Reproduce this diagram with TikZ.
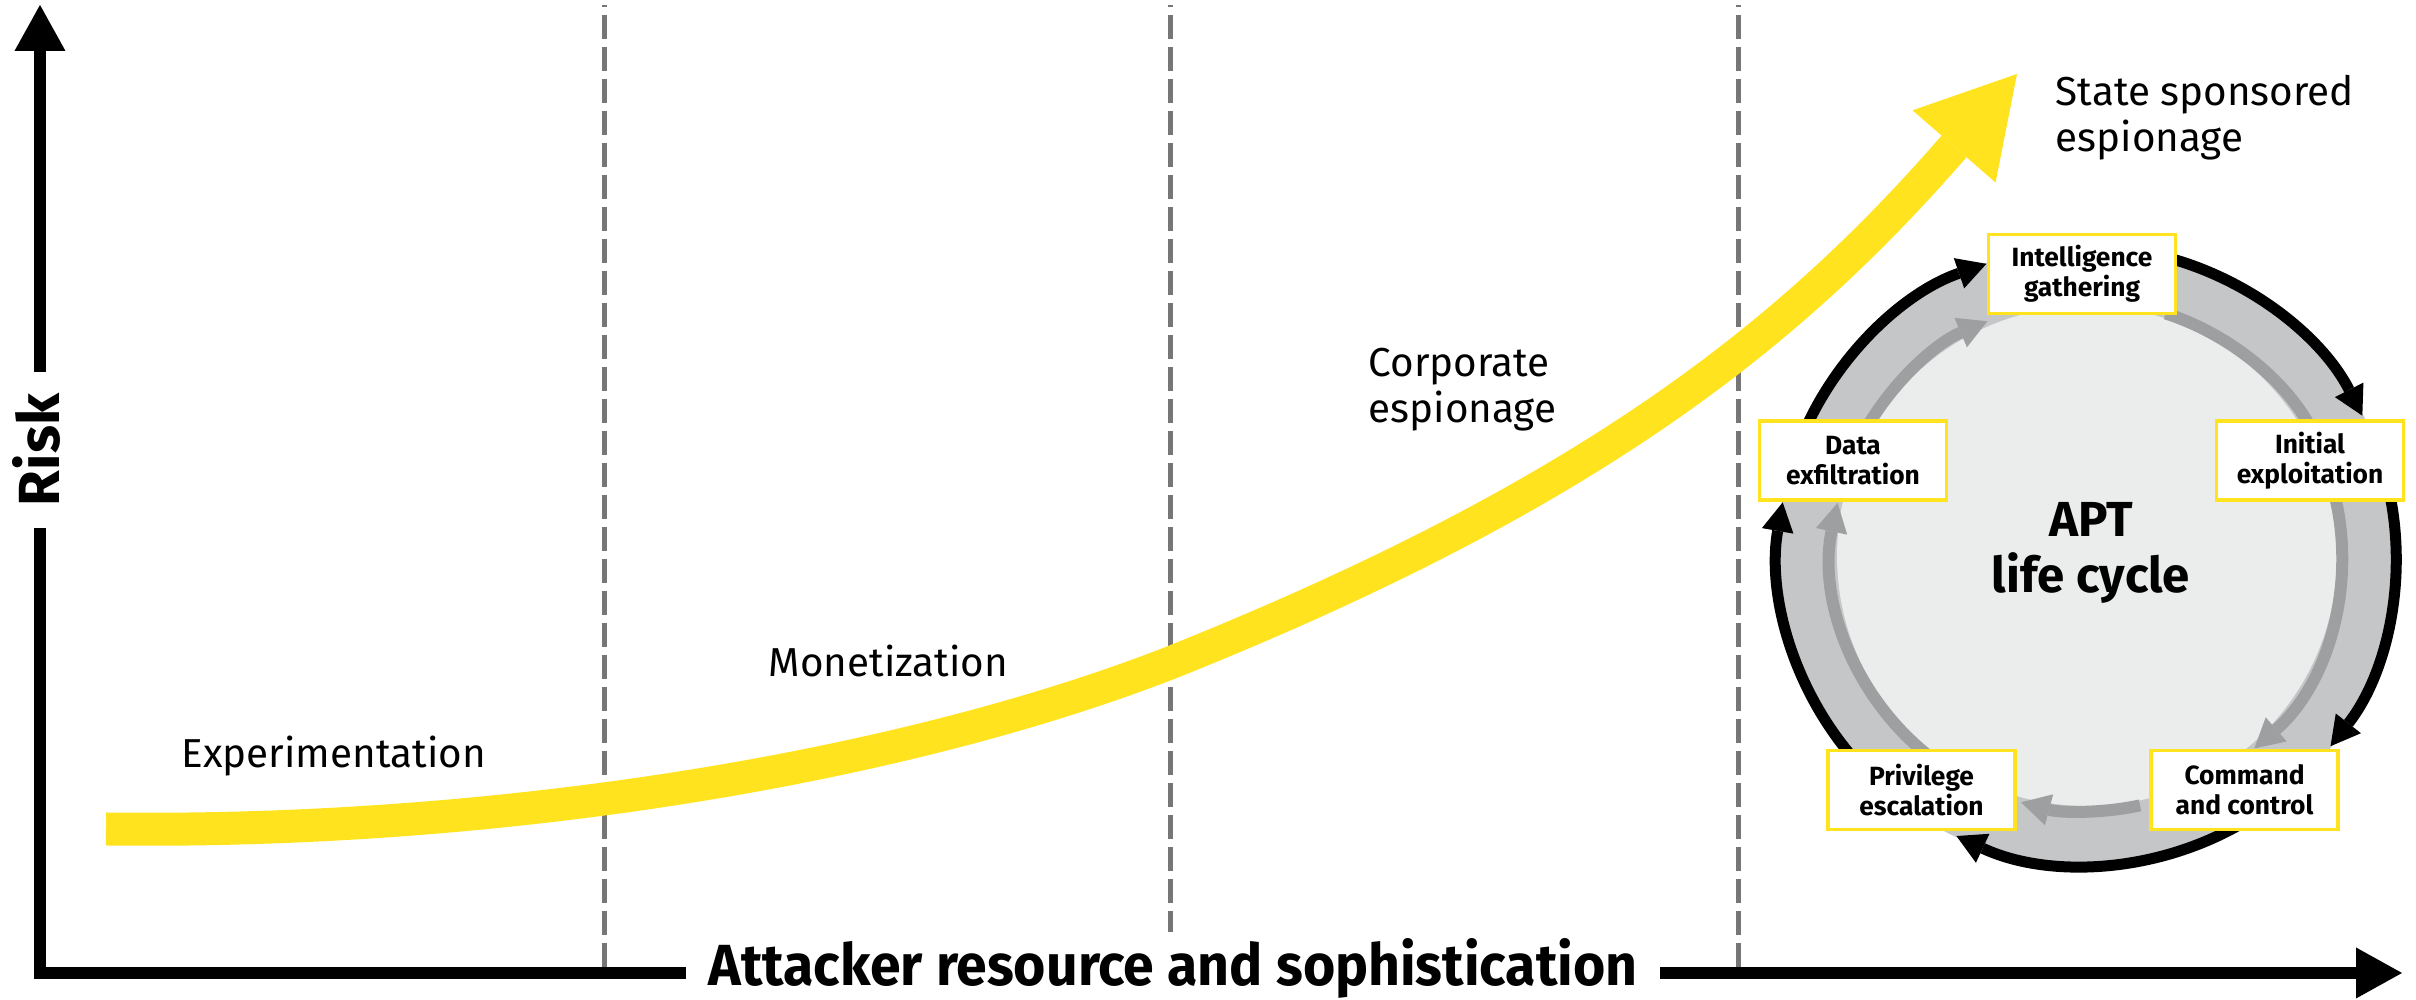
\documentclass[tikz,border=0pt]{standalone}
\usepackage{fontspec}
\setmainfont{Fira Sans}
\usetikzlibrary{arrows.meta}

\definecolor{eyyellow}{RGB}{255,227,30}
\definecolor{bandgrey}{RGB}{197,198,200}
\definecolor{palegrey}{RGB}{235,236,236}
\definecolor{arrowgrey}{RGB}{157,159,160}
\definecolor{dashgrey}{RGB}{118,118,118}

\tikzset{
  axisline/.style={line width=0.115cm,
    {Triangle[length=0.46cm,width=0.51cm,line width=0pt]}-{Triangle[length=0.46cm,width=0.51cm,line width=0pt]}},
  axislabel/.style={fill=white, font=\bfseries\fontsize{16.5}{20}\selectfont},
  divider/.style={dashgrey, line width=0.05cm, dash pattern=on 0.24cm off 0.08cm},
  trend/.style={eyyellow, line width=0.33cm, -{Triangle[length=0.96cm,width=1.1cm,line width=0pt]}},
  phase/.style={inner sep=0pt, align=left, font=\fontsize{11.5}{13.2}\selectfont},
  outerarc/.style={line width=0.11cm, -{Triangle[length=0.29cm,width=0.32cm,line width=0pt]}},
  innerarc/.style={arrowgrey, line width=0.12cm, -{Triangle[length=0.29cm,width=0.32cm,line width=0pt]}},
  stage/.style={draw=eyyellow, line width=0.035cm, fill=white, inner sep=0pt,
    minimum width=1.87cm, minimum height=0.79cm, align=center,
    font=\bfseries\fontsize{7.5}{8.5}\selectfont}
}

\begin{document}
\begin{tikzpicture}
\useasboundingbox (0,0) rectangle (24.16,10);

% axes
\coordinate (ytip) at (0.40,9.95);
\coordinate (origin) at (0.40,0.27);
\coordinate (xtip) at (24.02,0.27);
\draw[axisline] (ytip) -- (origin) -- (xtip);

% stage dividers
\draw[divider] (6.04,0.33) -- (6.04,9.95);
\draw[divider] (11.70,0.33) -- (11.70,9.95);
\draw[divider] (17.38,0.33) -- (17.38,9.95);

\node[axislabel, rotate=90, inner xsep=0.22cm, inner ysep=0.1cm] (risk) at (0.36,5.50) {Risk};
\node[axislabel, anchor=base, inner xsep=0.23cm, inner ysep=0.07cm] (resource) at (11.73,0.14)
  {\scalebox{0.955}[1]{Attacker resource and sophistication}};

% rising trend
\coordinate (trendstart) at (1.06,1.71);
\coordinate (trendbend) at (11.70,3.37);
\coordinate (trendtip) at (20.17,9.26);
\draw[trend] (trendstart) .. controls (5.0,1.66) and (9.0,2.32) .. (trendbend)
  .. controls (15.90,5.05) and (17.91,6.66) .. (trendtip);

\node[phase, anchor=base west] (experiment) at (1.81,2.32) {Experimentation};
\node[phase, anchor=base west] (money) at (7.68,3.23) {Monetization};
\node[phase, anchor=base west] (corporate) at (13.68,5.77) {Corporate\\espionage};
\node[phase, anchor=base west] (state) at (20.55,8.48) {State sponsored\\espionage};

% APT life cycle
\coordinate (cyc) at (20.87,4.44);
\fill[bandgrey] (cyc) circle (3.10);
\fill[palegrey] (cyc) circle (2.50);

\draw[innerarc] ([shift={(150:2.55)}]cyc) arc[start angle=150, end angle=113, radius=2.55];
\draw[innerarc] ([shift={(72:2.55)}]cyc) arc[start angle=72, end angle=20, radius=2.55];
\draw[innerarc] ([shift={(14:2.55)}]cyc) arc[start angle=14, end angle=-49, radius=2.55];
\draw[innerarc] ([shift={(-78:2.55)}]cyc) arc[start angle=-78, end angle=-105, radius=2.55];
\draw[innerarc] ([shift={(-128:2.55)}]cyc) arc[start angle=-128, end angle=-192, radius=2.55];

\draw[outerarc] ([shift={(156:3.09)}]cyc) arc[start angle=156, end angle=109, radius=3.09];
\draw[outerarc] ([shift={(75:3.09)}]cyc) arc[start angle=75, end angle=27, radius=3.09];
\draw[outerarc] ([shift={(12:3.09)}]cyc) arc[start angle=12, end angle=-38, radius=3.09];
\draw[outerarc] ([shift={(-61:3.09)}]cyc) arc[start angle=-61, end angle=-115, radius=3.09];
\draw[outerarc] ([shift={(-140:3.09)}]cyc) arc[start angle=-140, end angle=-190, radius=3.09];

\node[stage] (intel) at (20.82,7.26) {Intelligence\\gathering};
\node[stage] (initial) at (23.10,5.395) {Initial\\exploitation};
\node[stage] (command) at (22.445,2.10) {Command\\and control};
\node[stage] (privilege) at (19.215,2.10) {Privilege\\escalation};
\node[stage] (exfil) at (18.53,5.395) {Data\\exfiltration};

\node[align=center, font=\bfseries\fontsize{14}{16}\selectfont] (apt) at (20.91,4.47) {APT\\life cycle};
\end{tikzpicture}
\end{document}
